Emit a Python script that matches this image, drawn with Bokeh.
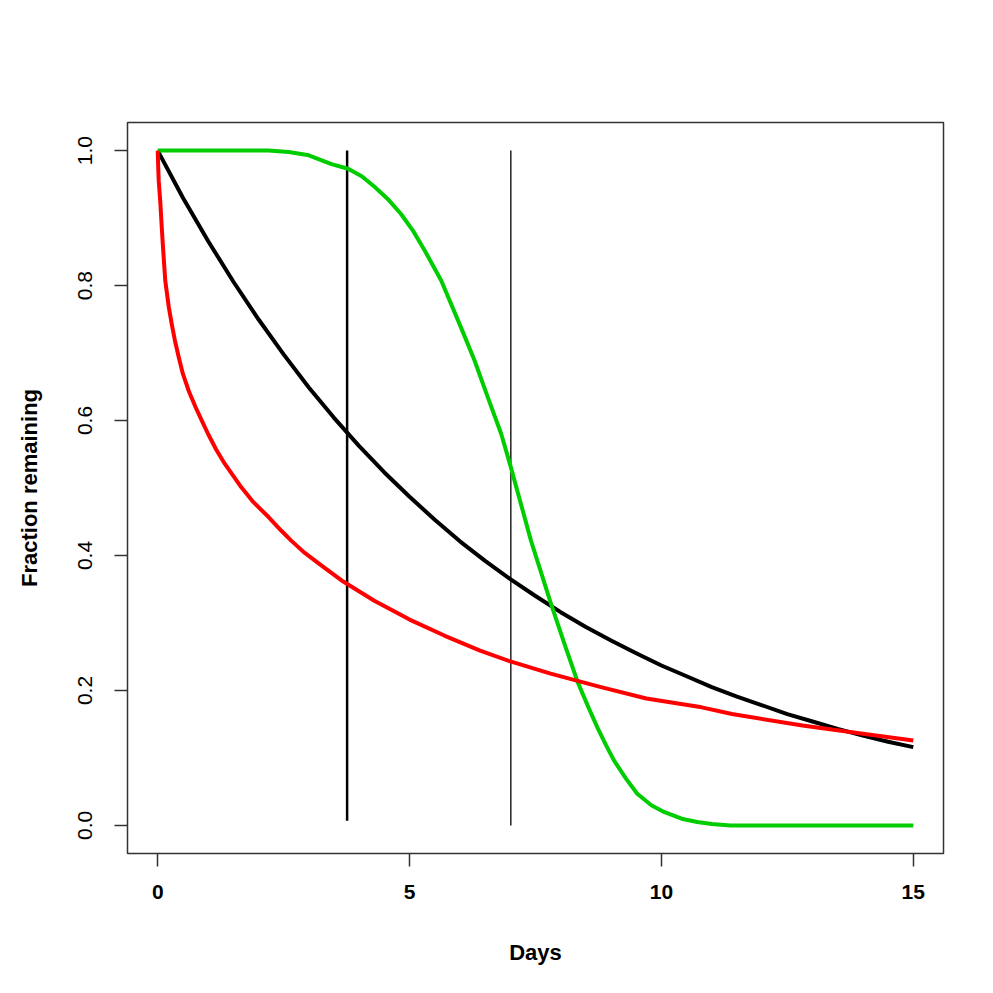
from bokeh.plotting import figure
from bokeh.models import Range1d, FixedTicker
from bokeh.embed import file_html
from bokeh.resources import INLINE

# ---- data ----
exp_days = [0, 0.5, 1, 1.5, 2, 2.5, 3, 3.5, 4, 4.5, 5, 5.5, 6, 6.5, 7, 7.5,
            8, 8.5, 9, 9.5, 10, 10.5, 11, 11.5, 12, 12.5, 13, 13.5, 14, 14.5, 15]
exp_frac = [1.0, 0.930, 0.866, 0.806, 0.750, 0.698, 0.649, 0.604, 0.562, 0.523,
            0.487, 0.453, 0.421, 0.392, 0.365, 0.340, 0.316, 0.294, 0.274, 0.255,
            0.237, 0.221, 0.205, 0.191, 0.178, 0.165, 0.154, 0.143, 0.133, 0.124, 0.116]

red_days = [0, 0.01, 0.02, 0.035, 0.05, 0.075, 0.1, 0.15, 0.22, 0.28, 0.34, 0.42,
            0.5, 0.62, 0.75, 0.88, 1.0, 1.16, 1.33, 1.5, 1.66, 1.9, 2.2, 2.45, 2.65,
            2.9, 3.2, 3.65, 4.3, 5.0, 5.7, 6.4, 7.0, 7.8, 8.8, 9.7, 10.8,
            11.4, 12.8, 14.0, 15.0]
red_frac = [1.0, 0.975, 0.955, 0.94, 0.925, 0.893, 0.862, 0.807, 0.768, 0.742,
            0.719, 0.693, 0.669, 0.643, 0.620, 0.599, 0.580, 0.557, 0.536, 0.518,
            0.501, 0.479, 0.457, 0.437, 0.422, 0.405, 0.388, 0.363, 0.333, 0.305,
            0.281, 0.259, 0.243, 0.225, 0.205, 0.188, 0.175, 0.165, 0.148, 0.136, 0.126]

green_days = [0, 2.2, 2.6, 3.0, 3.45, 3.78, 4.05, 4.31, 4.57, 4.83, 5.07, 5.30,
              5.63, 6.02, 6.29, 6.55, 6.82, 7.01, 7.41, 7.81, 8.08, 8.34, 8.55,
              8.73, 8.9, 9.06, 9.3, 9.52, 9.8, 10.05, 10.4, 10.71, 11.0, 11.37, 15.0]
green_frac = [1.0, 1.0, 0.998, 0.993, 0.980, 0.973, 0.962, 0.946, 0.928, 0.906,
              0.881, 0.852, 0.807, 0.738, 0.689, 0.635, 0.580, 0.531, 0.422, 0.328,
              0.268, 0.212, 0.175, 0.145, 0.119, 0.096, 0.069, 0.047, 0.030, 0.020,
              0.010, 0.005, 0.002, 0.0, 0.0]

vline1_day = 3.76
vline1_span = [0.007, 1.0]
vline2_day = 7.01
vline2_span = [0.0, 1.0]

x_ticks = [0, 5, 10, 15]
y_ticks = [0.0, 0.2, 0.4, 0.6, 0.8, 1.0]
y_tick_labels = {0.0: "0.0", 0.2: "0.2", 0.4: "0.4", 0.6: "0.6", 0.8: "0.8", 1.0: "1.0"}

FONT = "Liberation Sans"

p = figure(width=985, height=985, output_backend="svg", toolbar_location=None,
           x_range=Range1d(-0.6, 15.6), y_range=Range1d(-0.0416, 1.0416),
           min_border_left=127, min_border_right=42, min_border_top=122,
           min_border_bottom=132)
p.background_fill_color = "white"
p.border_fill_color = "white"
p.outline_line_color = "#333333"
p.outline_line_width = 1.5
p.grid.visible = False

for ax in (p.xaxis[0], p.yaxis[0]):
    ax.axis_line_color = None
    ax.major_tick_line_color = "#333333"
    ax.major_tick_line_width = 1.5
    ax.major_tick_out = 13
    ax.major_tick_in = 0
    ax.minor_tick_line_color = None
    ax.major_label_text_font = FONT
    ax.major_label_text_color = "black"
    ax.axis_label_text_font = FONT
    ax.axis_label_text_font_style = "bold"
    ax.axis_label_text_color = "black"
    ax.axis_label_text_font_size = "22px"
    ax.major_label_text_font_size = "21px"

p.xaxis.ticker = FixedTicker(ticks=x_ticks)
p.xaxis.major_label_text_font_style = "bold"
p.xaxis.major_label_standoff = 18
p.xaxis.axis_label = "Days"
p.xaxis.axis_label_standoff = 38

p.yaxis.ticker = FixedTicker(ticks=y_ticks)
p.yaxis.major_label_overrides = y_tick_labels
p.yaxis.major_label_orientation = "vertical"
p.yaxis.major_label_standoff = 22
p.yaxis.axis_label = "Fraction remaining"
p.yaxis.axis_label_standoff = 34

p.segment(x0=[vline1_day], y0=[vline1_span[0]], x1=[vline1_day], y1=[vline1_span[1]],
          line_color="black", line_width=2.5)
p.segment(x0=[vline2_day], y0=[vline2_span[0]], x1=[vline2_day], y1=[vline2_span[1]],
          line_color="#222222", line_width=1.5)

p.line(exp_days, exp_frac, line_color="black", line_width=4, line_join="round")
p.line(green_days, green_frac, line_color="#00CD00", line_width=4, line_join="round")
p.line(red_days, red_frac, line_color="#FF0000", line_width=4, line_join="round")

open("out.html", "w").write(file_html(p, INLINE))
